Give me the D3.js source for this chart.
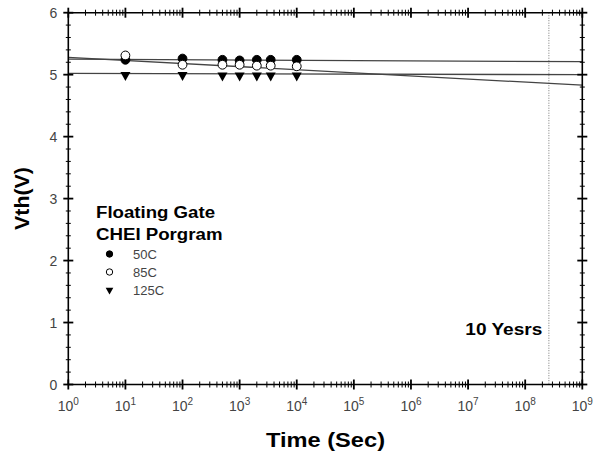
<!DOCTYPE html>
<html><head><meta charset="utf-8">
<script src="https://cdn.jsdelivr.net/npm/d3@7"></script>
<style>body{margin:0;background:#fff}svg{display:block}</style>
</head><body>
<svg id="c" width="593" height="461"></svg>
<script>
const times = [10, 100, 500, 1000, 2000, 3500, 10000];
const seriesNames = ["50C", "85C", "125C"];
const vth50 = [5.24, 5.26, 5.24, 5.23, 5.24, 5.24, 5.24];
const vth85 = [5.31, 5.16, 5.16, 5.16, 5.145, 5.145, 5.135];
const vth125 = [5.0, 5.0, 4.99, 4.99, 4.99, 4.99, 4.99];
const fitTimes = [1, 1e9];
const fit50 = [5.25, 5.21];
const fit85 = [5.28, 4.83];
const fit125 = [5.02, 5.0];
const tenYears = 2.6e8;
const xTickExps = [0,1,2,3,4,5,6,7,8,9];
const yTicks = [0,1,2,3,4,5,6];

const svg = d3.select("#c");
const L = 68.3, R = 582.3, T = 12.7, B = 384.5;
const x = d3.scaleLog().domain([1, 1e9]).range([L, R]);
const y = d3.scaleLinear().domain([0, 6]).range([B, T]);
const font = "Arial, 'Liberation Sans', Helvetica, sans-serif";

// dotted 10-year line
svg.append("line").attr("x1", x(tenYears)).attr("x2", x(tenYears))
  .attr("y1", T).attr("y2", B).attr("stroke", "#777").attr("stroke-width", 1)
  .attr("stroke-dasharray", "1,1.5");

// fit lines
const fits = [fit50, fit85, fit125];
const lineGen = d3.line().x(d => x(d[0])).y(d => y(d[1]));
fits.forEach(f => {
  svg.append("path").attr("d", lineGen(fitTimes.map((t, i) => [t, f[i]])))
    .attr("fill", "none").attr("stroke", "#444").attr("stroke-width", 1.3);
});

// axes frame
const frame = svg.append("g").attr("stroke", "#000").attr("stroke-width", 1.6);
frame.append("line").attr("x1", L).attr("x2", R).attr("y1", B).attr("y2", B);
frame.append("line").attr("x1", L).attr("x2", R).attr("y1", T).attr("y2", T);
frame.append("line").attr("x1", L).attr("x2", L).attr("y1", T).attr("y2", B);
frame.append("line").attr("x1", R).attr("x2", R).attr("y1", T).attr("y2", B);

// x ticks
const ticks = svg.append("g").attr("stroke", "#000");
xTickExps.forEach(e => {
  const v = Math.pow(10, e);
  [B, T].forEach(yy => {
    ticks.append("line").attr("x1", x(v)).attr("x2", x(v)).attr("y1", yy - 5).attr("y2", yy + 5).attr("stroke-width", 1.8);
  });
  if (e < 9) {
    for (let m = 2; m <= 9; m++) {
      const mv = m * v;
      [B, T].forEach(yy => {
        ticks.append("line").attr("x1", x(mv)).attr("x2", x(mv)).attr("y1", yy - 3).attr("y2", yy + 3).attr("stroke-width", 1);
      });
    }
  }
});
// y ticks
yTicks.forEach(v => {
  [L, R].forEach(xx => {
    ticks.append("line").attr("x1", xx - 5).attr("x2", xx + 5).attr("y1", y(v)).attr("y2", y(v)).attr("stroke-width", 1.8);
  });
  if (v < 6) {
    for (let k = 1; k < 5; k++) {
      const mv = v + k * 0.2;
      [L, R].forEach(xx => {
        ticks.append("line").attr("x1", xx - 2.5).attr("x2", xx + 2.5).attr("y1", y(mv)).attr("y2", y(mv)).attr("stroke-width", 1);
      });
    }
  }
});

// tick labels
yTicks.forEach(v => {
  svg.append("text").attr("x", L - 11).attr("y", y(v) + 5).attr("text-anchor", "end")
    .attr("font-family", font).attr("font-size", 14).attr("fill", "#444").text(v);
});
xTickExps.forEach(e => {
  const t = svg.append("text").attr("x", x(Math.pow(10, e))).attr("y", 411).attr("text-anchor", "middle")
    .attr("font-family", font).attr("font-size", 14).attr("fill", "#444");
  t.append("tspan").text("10");
  t.append("tspan").attr("dy", -6).attr("font-size", 10).text(e);
});

// axis titles
svg.append("text").attr("x", 325.5).attr("y", 446.5).attr("text-anchor", "middle")
  .attr("font-family", font).attr("font-size", 20).attr("font-weight", "bold")
  .attr("textLength", 119).attr("lengthAdjust", "spacingAndGlyphs").text("Time (Sec)");
svg.append("text").attr("transform", "translate(29,198.5) rotate(-90)").attr("text-anchor", "middle")
  .attr("font-family", font).attr("font-size", 20).attr("font-weight", "bold")
  .attr("textLength", 63).attr("lengthAdjust", "spacingAndGlyphs").text("Vth(V)");

// 10 years label
svg.append("text").attr("x", 542.3).attr("y", 334.5).attr("text-anchor", "end")
  .attr("font-family", font).attr("font-size", 16).attr("font-weight", "bold")
  .attr("textLength", 77).attr("lengthAdjust", "spacingAndGlyphs").text("10 Yesrs");

// markers
const triPath = (cx, cy, s) => `M${cx - s},${cy - s * 0.85}L${cx + s},${cy - s * 0.85}L${cx},${cy + s * 0.95}Z`;
function drawSeries(vals, kind) {
  const g = svg.append("g");
  times.forEach((t, i) => {
    const cx = x(t), cy = y(vals[i]);
    if (kind === "tri") {
      g.append("path").attr("d", triPath(cx, cy + 1.5, 5)).attr("fill", "#000");
    } else {
      g.append("circle").attr("cx", cx).attr("cy", cy).attr("r", 4.4)
        .attr("fill", kind === "filled" ? "#000" : "#fff").attr("stroke", "#000").attr("stroke-width", 1);
    }
  });
}
drawSeries(vth125, "tri");
drawSeries(vth50, "filled");
drawSeries(vth85, "open");

// legend
svg.append("text").attr("x", 96).attr("y", 218).attr("font-family", font).attr("font-size", 16)
  .attr("font-weight", "bold").attr("textLength", 119).attr("lengthAdjust", "spacingAndGlyphs").text("Floating Gate");
svg.append("text").attr("x", 96).attr("y", 240).attr("font-family", font).attr("font-size", 16)
  .attr("font-weight", "bold").attr("textLength", 126.5).attr("lengthAdjust", "spacingAndGlyphs").text("CHEI Porgram");
const legKinds = ["filled", "open", "tri"];
seriesNames.forEach((n, i) => {
  const cy = 254 + i * 18;
  if (legKinds[i] === "tri") {
    svg.append("path").attr("d", triPath(109.5, cy + 1, 3.8)).attr("fill", "#000");
  } else {
    svg.append("circle").attr("cx", 109.5).attr("cy", cy).attr("r", 3.2)
      .attr("fill", legKinds[i] === "filled" ? "#000" : "#fff").attr("stroke", "#000").attr("stroke-width", 1);
  }
  svg.append("text").attr("x", 133).attr("y", cy + 5).attr("font-family", font).attr("font-size", 13)
    .attr("fill", "#444").text(n);
});
</script>
</body></html>
